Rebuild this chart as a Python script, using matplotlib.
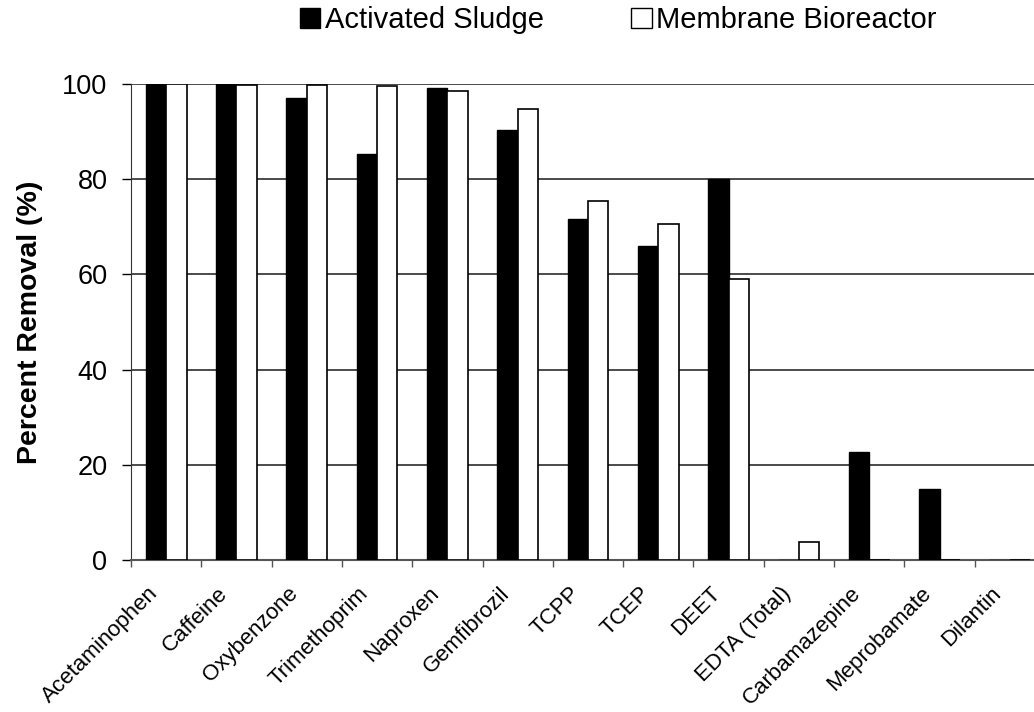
import numpy as np
import matplotlib
matplotlib.use('Agg')
import matplotlib.pyplot as plt
from matplotlib.patches import Patch
from matplotlib.transforms import ScaledTranslation, blended_transform_factory

plt.rcParams['font.family'] = ['Liberation Sans', 'DejaVu Sans']

compounds = ['Acetaminophen', 'Caffeine', 'Oxybenzone', 'Trimethoprim', 'Naproxen',
             'Gemfibrozil', 'TCPP', 'TCEP', 'DEET', 'EDTA (Total)', 'Carbamazepine',
             'Meprobamate', 'Dilantin']
activated_sludge = [100, 100, 97.0, 85.4, 99.1, 90.3, 71.6, 66.0, 80.0, 0, 22.6, 15.0, 0]
membrane_bioreactor = [100, 99.8, 99.8, 99.6, 98.6, 94.8, 75.4, 70.6, 59.0, 3.8, 0, 0, 0]
series_names = ['Activated Sludge', 'Membrane Bioreactor']
yticks = [0, 20, 40, 60, 80, 100]

fig = plt.figure(figsize=(10.34, 7.12), dpi=100)
ax = fig.add_axes([0.1267, 0.2135, 0.8839, 0.6685])

x = np.arange(len(compounds))
w = 0.29
ax.bar(x - w / 2, activated_sludge, w, color='black', edgecolor='black', lw=1, zorder=3)
ax.bar(x + w / 2, membrane_bioreactor, w, color='white', edgecolor='black', lw=1.2, zorder=3)

ax.set_xlim(-0.5, len(compounds) - 0.5)
ax.set_ylim(0, 100)
ax.set_yticks(yticks)
ax.yaxis.grid(True, color='#1a1a1a', lw=1.1, zorder=1)
ax.set_axisbelow(True)

for s in ['top', 'right']:
    ax.spines[s].set_visible(False)
ax.spines['left'].set_color('#333333')
ax.spines['bottom'].set_color('#555555')
ax.spines['bottom'].set_linewidth(1.5)

ax.tick_params(axis='y', direction='out', length=6.5, width=1, pad=10.5, labelsize=19.5)

# ticks sit on the category boundaries, names are placed under the centres
ax.set_xticks(np.arange(len(compounds) + 1) - 0.5)
ax.set_xticklabels([])
ax.tick_params(axis='x', direction='out', length=5, width=1, color='#555555')

trans = blended_transform_factory(ax.transData, ax.transAxes)
trans = trans + ScaledTranslation(-19 / 100, -23 / 100, fig.dpi_scale_trans)
for xi, name in zip(x, compounds):
    ax.text(xi, 0, name, transform=trans, rotation=45, ha='right', va='top',
            rotation_mode='anchor', fontsize=16, clip_on=False)

ax.set_ylabel('Percent Removal (%)', fontsize=20.5, fontweight='bold', labelpad=14)

handles = [Patch(facecolor='black', edgecolor='black'),
           Patch(facecolor='white', edgecolor='black')]
fig.legend(handles, series_names, loc='center', bbox_to_anchor=(0.598, 0.972), ncol=2,
           frameon=False, fontsize=21, handlelength=0.7, handleheight=0.7,
           handletextpad=0.15, columnspacing=3.0)

fig.savefig('out.png', dpi=100)
